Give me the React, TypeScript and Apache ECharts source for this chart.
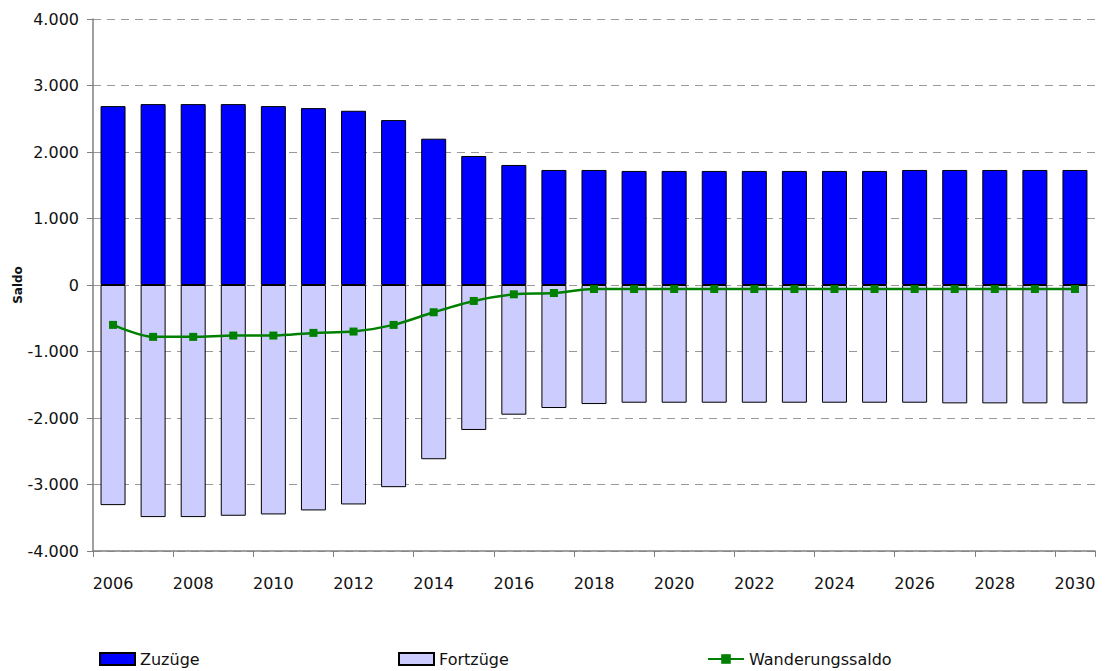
import React, { useEffect, useRef } from "react";
import * as echarts from "echarts";

const years = [
  "2006", "2007", "2008", "2009", "2010", "2011", "2012", "2013", "2014", "2015",
  "2016", "2017", "2018", "2019", "2020", "2021", "2022", "2023", "2024", "2025",
  "2026", "2027", "2028", "2029", "2030",
];
const zuzuege = [
  2690, 2720, 2720, 2720, 2690, 2660, 2620, 2480, 2200, 1940,
  1805, 1730, 1730, 1715, 1715, 1715, 1715, 1715, 1715, 1715,
  1730, 1730, 1730, 1730, 1730,
];
const fortzuege = [
  -3310, -3490, -3490, -3470, -3450, -3390, -3300, -3040, -2620, -2180,
  -1950, -1850, -1790, -1770, -1770, -1770, -1770, -1770, -1770, -1770,
  -1770, -1780, -1780, -1780, -1780,
];
const saldo = [
  -600, -780, -780, -760, -760, -720, -700, -600, -410, -240,
  -140, -120, -60, -60, -60, -60, -60, -60, -60, -60,
  -60, -60, -60, -60, -60,
];

const FONT = "DejaVu Sans";

function fmt(v: number): string {
  const s = Math.abs(v).toString().replace(/\B(?=(\d{3})+(?!\d))/g, ".");
  return (v < 0 ? "-" : "") + s;
}

const legendBase = {
  top: 651,
  padding: 0,
  itemWidth: 35,
  itemHeight: 12,
  itemGap: 5,
  textStyle: { fontFamily: FONT, fontSize: 16, color: "#111", padding: [0, 0, 0, 0] },
};

export default function App() {
  const ref = useRef<HTMLDivElement>(null);
  useEffect(() => {
    if (!ref.current) return;
    const chart = echarts.init(ref.current, null, { renderer: "svg" });
    chart.setOption({
      animation: false,
      textStyle: { fontFamily: FONT },
      grid: {
        left: 93,
        right: 14,
        top: 19,
        bottom: 120,
        containLabel: false,
        outerBoundsMode: "none",
      },
      legend: [
        { ...legendBase, data: [{ name: "Zuzüge", icon: "rect" }], left: 99 },
        { ...legendBase, data: [{ name: "Fortzüge", icon: "rect" }], left: 398 },
        { ...legendBase, data: ["Wanderungssaldo"], left: 707, itemWidth: 36 },
      ],
      xAxis: {
        type: "category",
        data: years,
        boundaryGap: true,
        axisLine: { onZero: false, lineStyle: { color: "#808080", width: 1.5 } },
        axisTick: { show: true, length: 6, lineStyle: { color: "#808080" } },
        axisLabel: {
          interval: 1,
          margin: 24,
          fontSize: 16,
          fontFamily: FONT,
          color: "#111",
        },
        splitLine: { show: false },
      },
      yAxis: {
        type: "value",
        min: -4000,
        max: 4000,
        interval: 1000,
        name: "Saldo",
        nameLocation: "middle",
        nameGap: 69,
        nameMoveOverlap: false,
        nameTextStyle: { fontFamily: FONT, fontSize: 12, fontWeight: "bold", color: "#111" },
        axisLine: { show: true, lineStyle: { color: "#808080", width: 1.5 } },
        axisTick: { show: true, length: 6, lineStyle: { color: "#808080" } },
        axisLabel: {
          margin: 14,
          fontSize: 16,
          fontFamily: FONT,
          color: "#111",
          formatter: (v: number) => fmt(v),
        },
        splitLine: { show: true, lineStyle: { color: "#999", type: [8, 6], width: 1 } },
      },
      series: [
        {
          name: "Zuzüge",
          type: "bar",
          stack: "a",
          data: zuzuege,
          barWidth: 25,
          itemStyle: { color: "#0000ff", borderColor: "#000", borderWidth: 1 },
        },
        {
          name: "Fortzüge",
          type: "bar",
          stack: "a",
          data: fortzuege,
          barWidth: 25,
          itemStyle: { color: "#ccccff", borderColor: "#000", borderWidth: 1 },
        },
        {
          name: "Wanderungssaldo",
          type: "line",
          data: saldo,
          smooth: 0.3,
          symbol: "rect",
          symbolSize: 8,
          lineStyle: { color: "#008000", width: 2.5 },
          itemStyle: { color: "#008000" },
          z: 5,
        },
      ],
    });
    return () => chart.dispose();
  }, []);
  return <div ref={ref} style={{ width: 1109, height: 671, position: "absolute", left: 0, top: 0 }} />;
}
